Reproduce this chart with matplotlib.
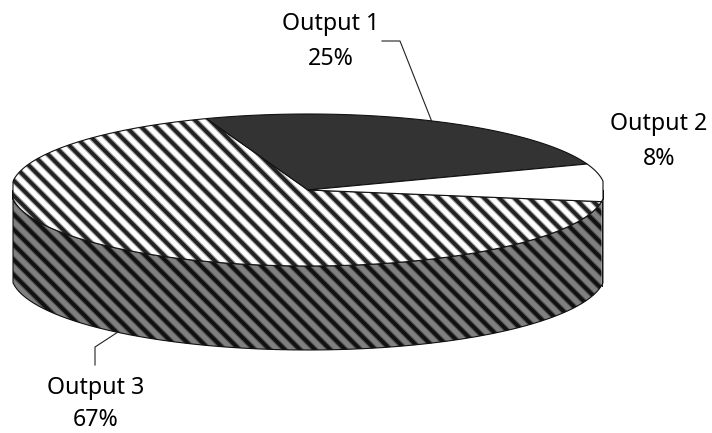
import numpy as np
import matplotlib
matplotlib.use("Agg")
import matplotlib.pyplot as plt
from matplotlib.collections import LineCollection
from matplotlib.patches import PathPatch
from matplotlib.path import Path

labels = ["Output 1", "Output 2", "Output 3"]
values = [25, 8, 67]

# pie geometry in image pixels
cx, cy = 308, 190
rx, ry = 297, 76
depth = 84
start_angle = 110
left, right = 13, 603

# stripes: 45 degree lines x - y = c
stripe_step = 15.1
top_phase = -91.3
wall_phase = -95.0

plt.rcParams["font.family"] = ["Noto Sans", "DejaVu Sans"]

fig = plt.figure(figsize=(7.12, 4.33), dpi=100)
ax = fig.add_axes([0, 0, 1, 1])
ax.set_xlim(0, 712)
ax.set_ylim(433, 0)
ax.axis("off")


def ell(t):
    t = np.radians(t)
    # the reference rim is cut flat at both sides
    return np.clip(cx + rx * np.cos(t), left, right), cy - ry * np.sin(t)


def arc(t0, t1):
    ts = np.linspace(t0, t1, 160)
    return np.column_stack(ell(ts))


def wall(t0, t1):
    top = arc(t0, t1)
    bottom = top[::-1] + [0, depth]
    return Path(np.vstack([top, bottom, top[:1]]))


def top_face(t0, t1):
    return Path(np.vstack([[[cx, cy]], arc(t0, t1), [[cx, cy]]]))


def add_stripes(patch, phase, color):
    cs = np.arange(phase - 60 * stripe_step, phase + 60 * stripe_step, stripe_step)
    segs = [[(c, 0), (c + 433, 433)] for c in cs]
    # soft edge under a solid core, the reference stripes are blurred
    for lw, alpha in [(4.3, 0.4), (2.7, 1.0)]:
        lc = LineCollection(segs, colors=color, linewidths=lw, alpha=alpha, zorder=patch.get_zorder())
        ax.add_collection(lc)
        lc.set_clip_path(patch)


# clockwise slice angles from the values
sweeps = np.array(values) / sum(values) * 360
ends = start_angle - np.cumsum(sweeps)
starts = ends + sweeps

# walls
wall3 = PathPatch(wall(-180, ends[1]), facecolor="#808080", edgecolor="none")
ax.add_patch(wall3)
add_stripes(wall3, wall_phase, "#111111")
ax.add_patch(PathPatch(wall(ends[1], 0), facecolor="#808080", edgecolor="none"))
ax.add_patch(PathPatch(wall(-180, 0), facecolor="none", edgecolor="#111111", lw=0.8))
seam_x, seam_y = ell(ends[1])
ax.plot([seam_x, seam_x], [seam_y, seam_y + depth], color="#111111", lw=0.7)

# top faces
face3 = PathPatch(top_face(starts[2], ends[2]), facecolor="white", edgecolor="none")
ax.add_patch(face3)
add_stripes(face3, top_phase, "#222222")
ax.add_patch(PathPatch(top_face(starts[2], ends[2]), facecolor="none", edgecolor="#111111", lw=0.8))
ax.add_patch(PathPatch(top_face(starts[0], ends[0]), facecolor="#333333", edgecolor="#111111", lw=0.8))
ax.add_patch(PathPatch(top_face(starts[1], ends[1]), facecolor="white", edgecolor="#111111", lw=0.8))

# leader lines
ax.plot([382, 400, 432], [41, 41, 122], color="#222222", lw=0.8)
ax.plot([95, 95, 118], [365, 347, 332], color="#222222", lw=0.8)

# labels: name y and percent y
label_x = [331, 659, 96]
name_y = [24, 124, 388]
pct_y = [59, 159, 420]
for name, val, x, y0, y1 in zip(labels, values, label_x, name_y, pct_y):
    ax.text(x, y0, name, ha="center", va="center", fontsize=16.7, color="black")
    ax.text(x, y1, f"{val}%", ha="center", va="center", fontsize=16.7, color="black")

fig.savefig("out.png", dpi=100)
